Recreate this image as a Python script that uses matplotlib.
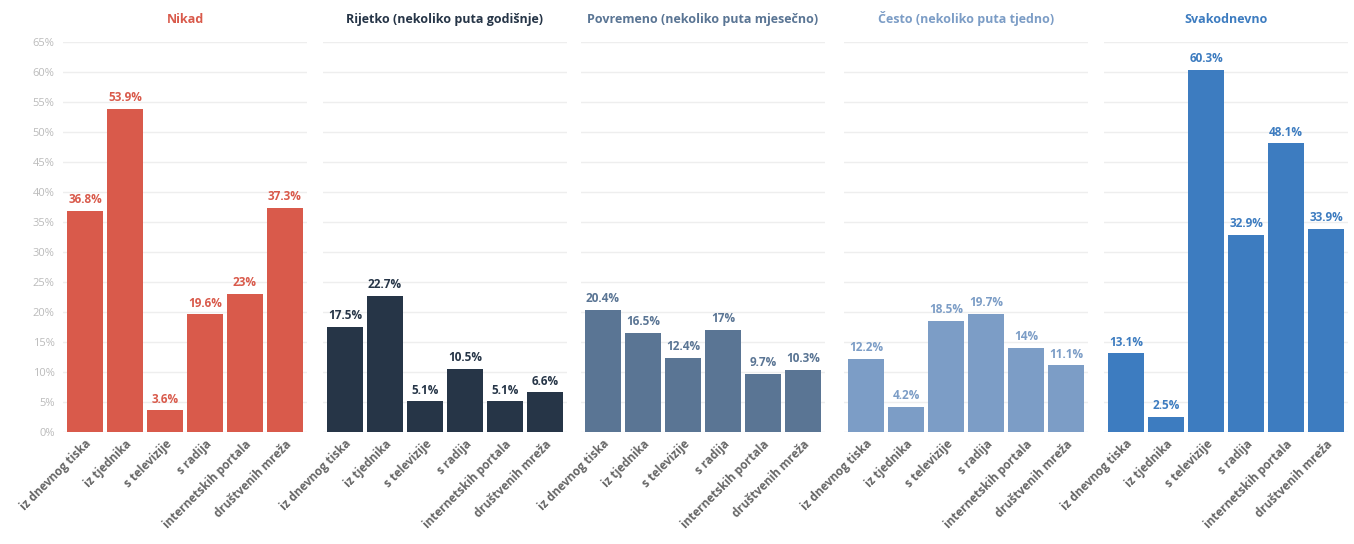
import numpy as np
import matplotlib.pyplot as plt

plt.rcParams['font.family'] = ['Open Sans', 'DejaVu Sans']

# categories (news source) shared by every panel
CATEGORIES = ['iz dnevnog tiska', 'iz tjednika', 's televizije', 's radija',
              'internetskih portala', 'društvenih mreža']

# panel titles
TITLES = ['Nikad', 'Rijetko (nekoliko puta godišnje)',
          'Povremeno (nekoliko puta mjesečno)', 'Često (nekoliko puta tjedno)',
          'Svakodnevno']

# values in percent, one list per panel
nikad = [36.8, 53.9, 3.6, 19.6, 23, 37.3]
rijetko = [17.5, 22.7, 5.1, 10.5, 5.1, 6.6]
povremeno = [20.4, 16.5, 12.4, 17, 9.7, 10.3]
cesto = [12.2, 4.2, 18.5, 19.7, 14, 11.1]
svakodnevno = [13.1, 2.5, 60.3, 32.9, 48.1, 33.9]

COLORS = ['#d95a4b', '#263547', '#5a7594', '#7c9dc6', '#3d7cc0']
TITLE_COLORS = ['#d95a4b', '#263547', '#5a7594', '#7c9dc6', '#3d7cc0']

series = [nikad, rijetko, povremeno, cesto, svakodnevno]

fig = plt.figure(figsize=(13.54, 5.44), dpi=100)
W, H = 1354, 544
lefts = [63, 323, 581, 844, 1104]
width = 244
bottom = 1 - 432 / H
top = 1 - 42 / H

x = np.arange(len(CATEGORIES))
yticks = np.arange(0, 70, 5)

for i in range(5):
    ax = fig.add_axes([lefts[i] / W, bottom, width / W, top - bottom])
    vals = series[i]
    ax.bar(x, vals, width=0.9, color=COLORS[i], zorder=2)
    for xi, v in zip(x, vals):
        ax.text(xi, v + 0.8, f'{v:g}%', ha='center', va='bottom', fontsize=8.5,
                fontweight='bold', color=COLORS[i])
    ax.set_xlim(-0.55, 5.55)
    ax.set_ylim(0, 65)
    ax.set_yticks(yticks)
    ax.grid(axis='y', color='#eeeeee', linewidth=1, zorder=0)
    for s in ax.spines.values():
        s.set_visible(False)
    ax.set_xticks(x)
    ax.set_xticklabels(CATEGORIES, rotation=45, ha='right', rotation_mode='anchor',
                       fontsize=8.5, color='#666666', fontweight='bold')
    ax.tick_params(axis='x', length=0, pad=4)
    if i == 0:
        ax.set_yticklabels([f'{t}%' for t in yticks], fontsize=8, color='#bbbbbb')
        ax.tick_params(axis='y', length=0, pad=6)
    else:
        ax.tick_params(axis='y', length=0, labelleft=False)
    ax.set_title(TITLES[i], fontsize=9, fontweight='bold', color=TITLE_COLORS[i], pad=14)

fig.savefig('out.png', dpi=100, facecolor='white')
